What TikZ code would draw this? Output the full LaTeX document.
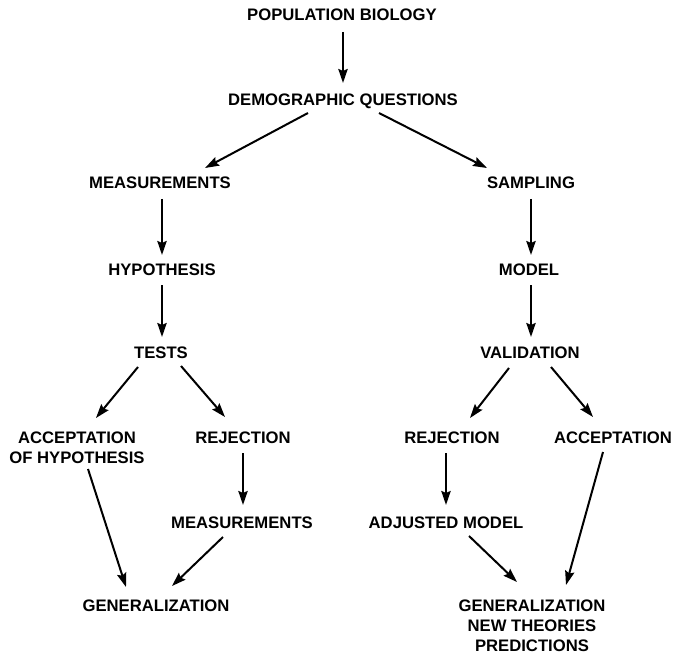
\documentclass[tikz,border=0pt]{standalone}
\usepackage{fontspec}
\setmainfont{Liberation Sans}
\usetikzlibrary{arrows.meta,calc}
\begin{document}
\begin{tikzpicture}[x=0.75pt,y=-0.75pt,
  lbl/.style={font=\bfseries\fontsize{12.5pt}{15pt}\selectfont, inner sep=0pt, text height=9pt, text depth=0pt},
  mlbl/.style={font=\bfseries\fontsize{12.5pt}{15pt}\selectfont, inner sep=0pt, align=center, anchor=base},
  arr/.style={line width=1.5pt, -{Stealth[length=10.5pt,width=7pt,inset=1.5pt]}}
]
\fill[white] (0,0) rectangle (675,656);
\useasboundingbox (0,0) rectangle (675,656);

\node[lbl] (pop) at (342,15) {POPULATION BIOLOGY};
\node[lbl] (demo) at (343,100) {DEMOGRAPHIC QUESTIONS};
\node[lbl] (meas) at (160,183) {MEASUREMENTS};
\node[lbl] (samp) at (531,183) {SAMPLING};
\node[lbl] (hyp) at (162,269) {HYPOTHESIS};
\node[lbl] (model) at (529,269) {MODEL};
\node[lbl] (tests) at (161,352) {TESTS};
\node[lbl] (valid) at (530,352) {VALIDATION};
\node[mlbl] (accL) at (77,463) {ACCEPTATION\\OF HYPOTHESIS};
\node[lbl] (rejL) at (243,437) {REJECTION};
\node[lbl] (rejR) at (452,437) {REJECTION};
\node[lbl] (accR) at (613,437) {ACCEPTATION};
\node[lbl] (meastwo) at (242,522) {MEASUREMENTS};
\node[lbl] (adj) at (446,522) {ADJUSTED MODEL};
\node[lbl] (genL) at (156,605) {GENERALIZATION};
\node[mlbl] (genR) at (532,651) {GENERALIZATION\\NEW THEORIES\\PREDICTIONS};

\draw[arr] ($(pop)+(1,17)$) -- ($(demo)+(0,-17)$);
\draw[arr] ($(demo)+(-35,13)$) -- ($(meas)+(45,-15)$);
\draw[arr] ($(demo)+(36,13)$) -- ($(samp)+(-44,-15)$);
\draw[arr] ($(meas)+(2,16)$) -- ($(hyp)+(0,-14)$);
\draw[arr] ($(samp)+(0,16)$) -- ($(model)+(2,-14)$);
\draw[arr] ($(hyp)+(0,16)$) -- ($(tests)+(1,-15)$);
\draw[arr] ($(model)+(2,16)$) -- ($(valid)+(1,-15)$);
\draw[arr] ($(tests)+(-23,15)$) -- ($(accL.base)+(19,-45)$);
\draw[arr] ($(tests)+(20,14)$) -- ($(rejL)+(-18,-20)$);
\draw[arr] ($(valid)+(-21,16)$) -- ($(rejR)+(18,-19)$);
\draw[arr] ($(valid)+(21,15)$) -- ($(accR)+(-20,-20)$);
\draw[arr] ($(accL.base)+(11,6)$) -- ($(genL)+(-30,-18)$);
\draw[arr] ($(rejL)+(0,16)$) -- ($(meastwo)+(1,-17)$);
\draw[arr] ($(meastwo)+(-19,15)$) -- ($(genL)+(16,-19)$);
\draw[arr] ($(rejR)+(-6,16)$) -- ($(adj)+(0,-17)$);
\draw[arr] ($(adj)+(23,14)$) -- ($(genR.base)+(-15,-69)$);
\draw[arr] ($(accR)+(-10,15)$) -- ($(genR.base)+(34,-66)$);
\end{tikzpicture}
\end{document}
